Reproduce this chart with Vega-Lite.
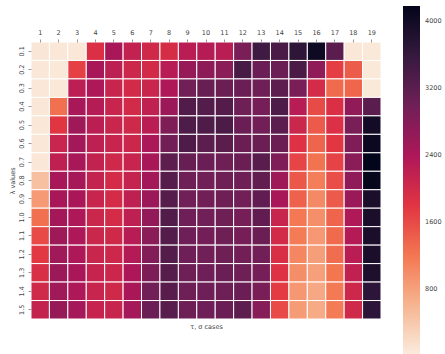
{
  "$schema": "https://vega.github.io/schema/vega-lite/v6.json",
  "width": 350,
  "height": 277,
  "autosize": "none",
  "padding": {"left": 31, "top": 42, "right": 64, "bottom": 35},
  "background": "white",
  "datasets": {
    "cells": [
      {"l":"0.1","c":1,"v":80},{"l":"0.1","c":2,"v":70},{"l":"0.1","c":3,"v":70},{"l":"0.1","c":4,"v":1880},{"l":"0.1","c":5,"v":2448},{"l":"0.1","c":6,"v":2160},{"l":"0.1","c":7,"v":2011},{"l":"0.1","c":8,"v":1930},{"l":"0.1","c":9,"v":2262},{"l":"0.1","c":10,"v":2308},{"l":"0.1","c":11,"v":2274},{"l":"0.1","c":12,"v":2896},{"l":"0.1","c":13,"v":3485},{"l":"0.1","c":14,"v":3375},{"l":"0.1","c":15,"v":3669},{"l":"0.1","c":16,"v":4037},{"l":"0.1","c":17,"v":3214},{"l":"0.1","c":18,"v":70},{"l":"0.1","c":19,"v":60},
      {"l":"0.2","c":1,"v":70},{"l":"0.2","c":2,"v":60},{"l":"0.2","c":3,"v":1682},{"l":"0.2","c":4,"v":2448},{"l":"0.2","c":5,"v":2228},{"l":"0.2","c":6,"v":2046},{"l":"0.2","c":7,"v":1977},{"l":"0.2","c":8,"v":2285},{"l":"0.2","c":9,"v":2613},{"l":"0.2","c":10,"v":2710},{"l":"0.2","c":11,"v":2740},{"l":"0.2","c":12,"v":3405},{"l":"0.2","c":13,"v":3043},{"l":"0.2","c":14,"v":3053},{"l":"0.2","c":15,"v":3375},{"l":"0.2","c":16,"v":2691},{"l":"0.2","c":17,"v":1717},{"l":"0.2","c":18,"v":1442},{"l":"0.2","c":19,"v":60},
      {"l":"0.3","c":1,"v":70},{"l":"0.3","c":2,"v":60},{"l":"0.3","c":3,"v":2239},{"l":"0.3","c":4,"v":2388},{"l":"0.3","c":5,"v":2103},{"l":"0.3","c":6,"v":1977},{"l":"0.3","c":7,"v":2080},{"l":"0.3","c":8,"v":2388},{"l":"0.3","c":9,"v":2983},{"l":"0.3","c":10,"v":3094},{"l":"0.3","c":11,"v":3053},{"l":"0.3","c":12,"v":3043},{"l":"0.3","c":13,"v":3013},{"l":"0.3","c":14,"v":3174},{"l":"0.3","c":15,"v":2896},{"l":"0.3","c":16,"v":1954},{"l":"0.3","c":17,"v":1318},{"l":"0.3","c":18,"v":1354},{"l":"0.3","c":19,"v":60},
      {"l":"0.4","c":1,"v":70},{"l":"0.4","c":2,"v":1265},{"l":"0.4","c":3,"v":2448},{"l":"0.4","c":4,"v":2308},{"l":"0.4","c":5,"v":2103},{"l":"0.4","c":6,"v":1977},{"l":"0.4","c":7,"v":2194},{"l":"0.4","c":8,"v":2574},{"l":"0.4","c":9,"v":3305},{"l":"0.4","c":10,"v":3274},{"l":"0.4","c":11,"v":3274},{"l":"0.4","c":12,"v":3023},{"l":"0.4","c":13,"v":2935},{"l":"0.4","c":14,"v":3335},{"l":"0.4","c":15,"v":2285},{"l":"0.4","c":16,"v":1593},{"l":"0.4","c":17,"v":1886},{"l":"0.4","c":18,"v":2681},{"l":"0.4","c":19,"v":3214},
      {"l":"0.5","c":1,"v":70},{"l":"0.5","c":2,"v":1790},{"l":"0.5","c":3,"v":2535},{"l":"0.5","c":4,"v":2251},{"l":"0.5","c":5,"v":2080},{"l":"0.5","c":6,"v":2011},{"l":"0.5","c":7,"v":2262},{"l":"0.5","c":8,"v":2847},{"l":"0.5","c":9,"v":3335},{"l":"0.5","c":10,"v":3325},{"l":"0.5","c":11,"v":3355},{"l":"0.5","c":12,"v":3043},{"l":"0.5","c":13,"v":2974},{"l":"0.5","c":14,"v":3194},{"l":"0.5","c":15,"v":2068},{"l":"0.5","c":16,"v":1460},{"l":"0.5","c":17,"v":1875},{"l":"0.5","c":18,"v":2896},{"l":"0.5","c":19,"v":3978},
      {"l":"0.6","c":1,"v":70},{"l":"0.6","c":2,"v":2080},{"l":"0.6","c":3,"v":2506},{"l":"0.6","c":4,"v":2217},{"l":"0.6","c":5,"v":2103},{"l":"0.6","c":6,"v":2057},{"l":"0.6","c":7,"v":2418},{"l":"0.6","c":8,"v":2964},{"l":"0.6","c":9,"v":3325},{"l":"0.6","c":10,"v":3194},{"l":"0.6","c":11,"v":3214},{"l":"0.6","c":12,"v":3053},{"l":"0.6","c":13,"v":3053},{"l":"0.6","c":14,"v":3053},{"l":"0.6","c":15,"v":1840},{"l":"0.6","c":16,"v":1362},{"l":"0.6","c":17,"v":1780},{"l":"0.6","c":18,"v":2847},{"l":"0.6","c":19,"v":4085},
      {"l":"0.7","c":1,"v":70},{"l":"0.7","c":2,"v":2205},{"l":"0.7","c":3,"v":2448},{"l":"0.7","c":4,"v":2171},{"l":"0.7","c":5,"v":2023},{"l":"0.7","c":6,"v":2103},{"l":"0.7","c":7,"v":2448},{"l":"0.7","c":8,"v":3184},{"l":"0.7","c":9,"v":3094},{"l":"0.7","c":10,"v":3043},{"l":"0.7","c":11,"v":3013},{"l":"0.7","c":12,"v":3053},{"l":"0.7","c":13,"v":3234},{"l":"0.7","c":14,"v":2857},{"l":"0.7","c":15,"v":1655},{"l":"0.7","c":16,"v":1238},{"l":"0.7","c":17,"v":1664},{"l":"0.7","c":18,"v":2740},{"l":"0.7","c":19,"v":4180},
      {"l":"0.8","c":1,"v":489},{"l":"0.8","c":2,"v":2448},{"l":"0.8","c":3,"v":2457},{"l":"0.8","c":4,"v":2148},{"l":"0.8","c":5,"v":1954},{"l":"0.8","c":6,"v":2125},{"l":"0.8","c":7,"v":2506},{"l":"0.8","c":8,"v":3254},{"l":"0.8","c":9,"v":3023},{"l":"0.8","c":10,"v":2983},{"l":"0.8","c":11,"v":3013},{"l":"0.8","c":12,"v":3023},{"l":"0.8","c":13,"v":3134},{"l":"0.8","c":14,"v":2555},{"l":"0.8","c":15,"v":1478},{"l":"0.8","c":16,"v":1136},{"l":"0.8","c":17,"v":1558},{"l":"0.8","c":18,"v":2691},{"l":"0.8","c":19,"v":4144},
      {"l":"0.9","c":1,"v":868},{"l":"0.9","c":2,"v":2448},{"l":"0.9","c":3,"v":2428},{"l":"0.9","c":4,"v":2103},{"l":"0.9","c":5,"v":1966},{"l":"0.9","c":6,"v":2205},{"l":"0.9","c":7,"v":2574},{"l":"0.9","c":8,"v":3254},{"l":"0.9","c":9,"v":2983},{"l":"0.9","c":10,"v":2974},{"l":"0.9","c":11,"v":3013},{"l":"0.9","c":12,"v":2983},{"l":"0.9","c":13,"v":3144},{"l":"0.9","c":14,"v":2448},{"l":"0.9","c":15,"v":1389},{"l":"0.9","c":16,"v":1021},{"l":"0.9","c":17,"v":1460},{"l":"0.9","c":18,"v":2584},{"l":"0.9","c":19,"v":3907},
      {"l":"1.0","c":1,"v":1265},{"l":"1.0","c":2,"v":2487},{"l":"1.0","c":3,"v":2388},{"l":"1.0","c":4,"v":2068},{"l":"1.0","c":5,"v":1966},{"l":"1.0","c":6,"v":2205},{"l":"1.0","c":7,"v":2652},{"l":"1.0","c":8,"v":3305},{"l":"1.0","c":9,"v":3003},{"l":"1.0","c":10,"v":2983},{"l":"1.0","c":11,"v":3013},{"l":"1.0","c":12,"v":2944},{"l":"1.0","c":13,"v":3144},{"l":"1.0","c":14,"v":2103},{"l":"1.0","c":15,"v":1193},{"l":"1.0","c":16,"v":973},{"l":"1.0","c":17,"v":1371},{"l":"1.0","c":18,"v":2365},{"l":"1.0","c":19,"v":3907},
      {"l":"1.1","c":1,"v":1602},{"l":"1.1","c":2,"v":2555},{"l":"1.1","c":3,"v":2388},{"l":"1.1","c":4,"v":2068},{"l":"1.1","c":5,"v":2011},{"l":"1.1","c":6,"v":2285},{"l":"1.1","c":7,"v":2740},{"l":"1.1","c":8,"v":3274},{"l":"1.1","c":9,"v":3003},{"l":"1.1","c":10,"v":2954},{"l":"1.1","c":11,"v":3013},{"l":"1.1","c":12,"v":2944},{"l":"1.1","c":13,"v":3053},{"l":"1.1","c":14,"v":1977},{"l":"1.1","c":15,"v":1155},{"l":"1.1","c":16,"v":887},{"l":"1.1","c":17,"v":1318},{"l":"1.1","c":18,"v":2331},{"l":"1.1","c":19,"v":3907},
      {"l":"1.2","c":1,"v":1762},{"l":"1.2","c":2,"v":2525},{"l":"1.2","c":3,"v":2388},{"l":"1.2","c":4,"v":2080},{"l":"1.2","c":5,"v":2034},{"l":"1.2","c":6,"v":2331},{"l":"1.2","c":7,"v":2808},{"l":"1.2","c":8,"v":3274},{"l":"1.2","c":9,"v":3003},{"l":"1.2","c":10,"v":2983},{"l":"1.2","c":11,"v":3013},{"l":"1.2","c":12,"v":2964},{"l":"1.2","c":13,"v":2974},{"l":"1.2","c":14,"v":1909},{"l":"1.2","c":15,"v":1059},{"l":"1.2","c":16,"v":820},{"l":"1.2","c":17,"v":1292},{"l":"1.2","c":18,"v":2262},{"l":"1.2","c":19,"v":3907},
      {"l":"1.3","c":1,"v":1897},{"l":"1.3","c":2,"v":2574},{"l":"1.3","c":3,"v":2428},{"l":"1.3","c":4,"v":2114},{"l":"1.3","c":5,"v":2057},{"l":"1.3","c":6,"v":2399},{"l":"1.3","c":7,"v":2866},{"l":"1.3","c":8,"v":3254},{"l":"1.3","c":9,"v":3013},{"l":"1.3","c":10,"v":3003},{"l":"1.3","c":11,"v":3043},{"l":"1.3","c":12,"v":3023},{"l":"1.3","c":13,"v":2944},{"l":"1.3","c":14,"v":1840},{"l":"1.3","c":15,"v":983},{"l":"1.3","c":16,"v":813},{"l":"1.3","c":17,"v":1212},{"l":"1.3","c":18,"v":2182},{"l":"1.3","c":19,"v":3859},
      {"l":"1.4","c":1,"v":2000},{"l":"1.4","c":2,"v":2525},{"l":"1.4","c":3,"v":2388},{"l":"1.4","c":4,"v":2103},{"l":"1.4","c":5,"v":2011},{"l":"1.4","c":6,"v":2428},{"l":"1.4","c":7,"v":2983},{"l":"1.4","c":8,"v":3234},{"l":"1.4","c":9,"v":3013},{"l":"1.4","c":10,"v":3003},{"l":"1.4","c":11,"v":3013},{"l":"1.4","c":12,"v":3043},{"l":"1.4","c":13,"v":2896},{"l":"1.4","c":14,"v":1744},{"l":"1.4","c":15,"v":896},{"l":"1.4","c":16,"v":734},{"l":"1.4","c":17,"v":1174},{"l":"1.4","c":18,"v":2034},{"l":"1.4","c":19,"v":3693},
      {"l":"1.5","c":1,"v":2148},{"l":"1.5","c":2,"v":2623},{"l":"1.5","c":3,"v":2477},{"l":"1.5","c":4,"v":2114},{"l":"1.5","c":5,"v":2103},{"l":"1.5","c":6,"v":2477},{"l":"1.5","c":7,"v":3043},{"l":"1.5","c":8,"v":3224},{"l":"1.5","c":9,"v":3013},{"l":"1.5","c":10,"v":3003},{"l":"1.5","c":11,"v":3043},{"l":"1.5","c":12,"v":3174},{"l":"1.5","c":13,"v":2779},{"l":"1.5","c":14,"v":1602},{"l":"1.5","c":15,"v":849},{"l":"1.5","c":16,"v":715},{"l":"1.5","c":17,"v":1155},{"l":"1.5","c":18,"v":2000},{"l":"1.5","c":19,"v":3693}
    ]
  },
  "data": {"name": "cells"},
  "encoding": {
    "y": {
      "field": "l", "type": "ordinal",
      "scale": {"paddingInner": 0, "paddingOuter": 0},
      "axis": {"title": "λ values", "labelAngle": -90, "domain": false, "ticks": true, "tickSize": 3, "tickColor": "#999", "labelPadding": 4, "labelFontSize": 6.5, "labelColor": "#444", "labelFont": "DejaVu Sans", "titleFontSize": 6.5, "titleFontWeight": "normal", "titleColor": "#444", "titleFont": "DejaVu Sans", "titlePadding": 3}
    },
    "color": {
      "field": "v", "type": "quantitative",
      "scale": {"domain": [25, 4180], "nice": false, "interpolate": "rgb", "range": ["#faebdd", "#f6b48f", "#f37651", "#e13342", "#ad1759", "#701f57", "#35193e", "#03051a"]},
      "legend": {"orient": "none", "legendX": 372, "legendY": -36, "title": null, "direction": "vertical", "gradientLength": 348, "gradientThickness": 17, "gradientStrokeWidth": 0, "values": [800, 1600, 2400, 3200, 4000], "format": "d", "labelFontSize": 6.5, "labelColor": "#444", "labelFont": "DejaVu Sans", "labelOffset": 5}
    }
  },
  "layer": [
    {
      "mark": {"type": "rect", "stroke": "white", "strokeWidth": 1},
      "encoding": {
        "x": {
          "field": "c", "type": "ordinal",
          "scale": {"paddingInner": 0, "paddingOuter": 0},
          "axis": {"orient": "top", "title": null, "labelAngle": 0, "domain": false, "ticks": true, "tickSize": 3, "tickColor": "#999", "labelPadding": 4, "labelFontSize": 6.5, "labelColor": "#444", "labelFont": "DejaVu Sans"}
        }
      }
    },
    {
      "mark": {"type": "rect", "stroke": "white", "strokeWidth": 1},
      "encoding": {
        "x": {
          "field": "c", "type": "ordinal",
          "axis": {"orient": "bottom", "title": "τ, σ cases", "labels": false, "ticks": false, "domain": false, "titlePadding": 4, "titleFontSize": 6.5, "titleFontWeight": "normal", "titleColor": "#444", "titleFont": "DejaVu Sans"}
        }
      }
    }
  ],
  "resolve": {"axis": {"x": "independent"}},
  "config": {"view": {"stroke": null}}
}
